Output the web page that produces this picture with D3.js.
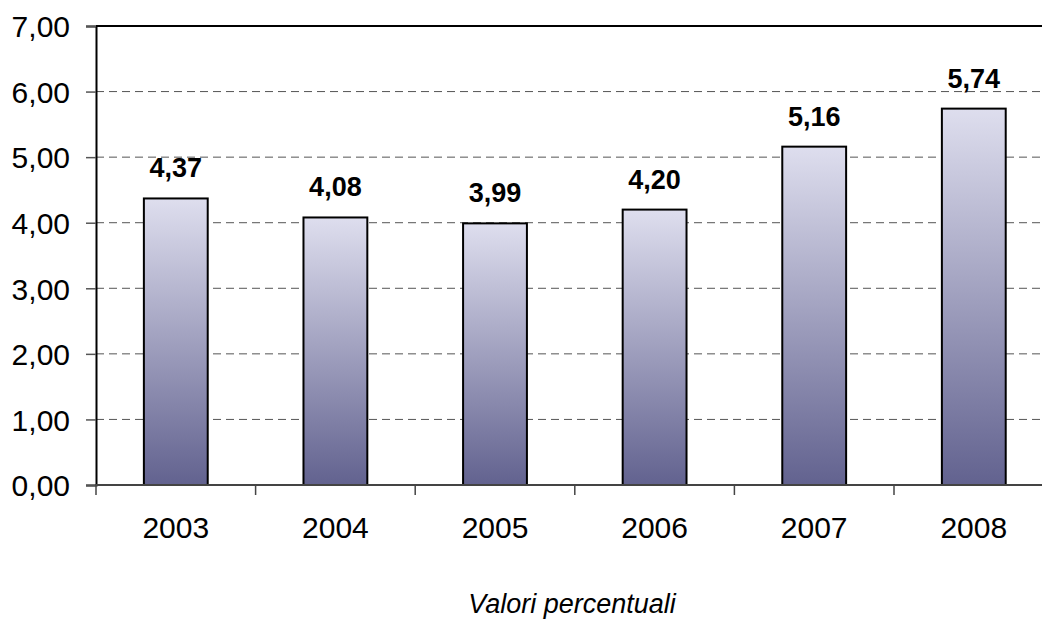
<!DOCTYPE html>
<html><head><meta charset="utf-8">
<script src="https://cdn.jsdelivr.net/npm/d3@7"></script>
<style>body{margin:0;background:#fff}svg{display:block}</style>
</head><body>
<svg id="c" width="1042" height="619"></svg>
<script>
const categories = ["2003","2004","2005","2006","2007","2008"];
const values = [4.37, 4.08, 3.99, 4.20, 5.16, 5.74];
const yTicks = [0,1,2,3,4,5,6,7];
const title = "Valori percentuali";

(function(){
const svg = d3.select("#c");
const mLeft = 96, mTop = 26, mBottom = 485, mRight = 96 + 159.6*6;
const x = d3.scaleBand().domain(categories).range([mLeft, mRight]).paddingInner(0.6).paddingOuter(0.3);
const y = d3.scaleLinear().domain([0,7]).range([mBottom, mTop]);
const fmt = v => d3.format(".2f")(v).replace(".", ",");
const FONT = "Arial, 'Liberation Sans', sans-serif";

const defs = svg.append("defs");
const g = defs.append("linearGradient").attr("id","bg").attr("x1",0).attr("y1",0).attr("x2",0).attr("y2",1);
g.append("stop").attr("offset","0%").attr("stop-color","#dedeee");
g.append("stop").attr("offset","100%").attr("stop-color","#62628f");

svg.append("g").selectAll("line").data(yTicks.filter(d=>d>0 && d<7)).join("line")
  .attr("x1", mLeft).attr("x2", 1042).attr("y1", d=>y(d)).attr("y2", d=>y(d))
  .attr("stroke","#555").attr("stroke-width",1).attr("stroke-dasharray","8,5");
svg.append("line").attr("x1",mLeft).attr("x2",1042).attr("y1",y(7)).attr("y2",y(7)).attr("stroke","#000").attr("stroke-width",2);

svg.append("g").selectAll("rect").data(values).join("rect")
  .attr("x",(d,i)=>x(categories[i])).attr("width",x.bandwidth())
  .attr("y",d=>y(d)).attr("height",d=>y(0)-y(d))
  .attr("fill","url(#bg)").attr("stroke","#000").attr("stroke-width",2);

svg.append("g").selectAll("text").data(values).join("text")
  .attr("x",(d,i)=>x(categories[i])+x.bandwidth()/2).attr("y",d=>y(d)-21)
  .attr("text-anchor","middle").attr("font-family",FONT)
  .attr("font-size",27).attr("font-weight","bold").text(d=>fmt(d));

const ya = d3.axisLeft(y).tickValues(yTicks).tickFormat(fmt).tickSize(10).tickPadding(16);
const yg = svg.append("g").attr("transform",`translate(${mLeft},0)`).call(ya);
yg.select(".domain").attr("stroke","#000").attr("stroke-width",2);
yg.selectAll(".tick line").attr("stroke","#555").attr("stroke-width",1.5);
yg.selectAll("text").attr("font-family",FONT).attr("font-size",30).attr("fill","#000").attr("dy","0.36em");

const xl = d3.scaleLinear().domain([0,6]).range([mLeft,mRight]);
const xg = svg.append("g").attr("transform",`translate(0,${mBottom})`);
xg.append("line").attr("x1",mLeft).attr("x2",1042).attr("stroke","#444").attr("stroke-width",2);
xg.selectAll(".t").data(d3.range(0,6)).join("line").attr("class","t")
  .attr("x1",d=>xl(d)).attr("x2",d=>xl(d)).attr("y1",0).attr("y2",10).attr("stroke","#444").attr("stroke-width",1.5);
xg.selectAll("text").data(categories).join("text")
  .attr("x",d=>x(d)+x.bandwidth()/2).attr("y",53).attr("text-anchor","middle")
  .attr("font-family",FONT).attr("font-size",30).text(d=>d);

svg.append("text").attr("x",572).attr("y",613).attr("text-anchor","middle")
  .attr("font-family",FONT).attr("font-size",27).attr("font-style","italic").text(title);
})();
</script>
</body></html>
